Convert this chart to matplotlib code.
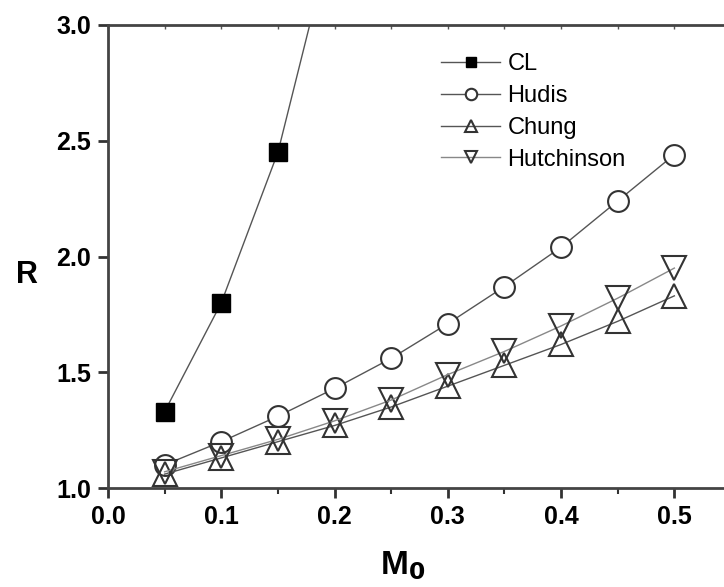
import matplotlib
matplotlib.use('Agg')
from matplotlib import pyplot as plt
from matplotlib.ticker import MultipleLocator

plt.rcParams['font.family'] = ['Liberation Sans', 'DejaVu Sans']

m0 = [0.05, 0.10, 0.15, 0.20, 0.25, 0.30, 0.35, 0.40, 0.45, 0.50]
cl_x = [0.05, 0.10, 0.15, 0.20]
cl = [1.33, 1.80, 2.45, 3.43]
hudis = [1.10, 1.20, 1.31, 1.43, 1.56, 1.71, 1.87, 2.04, 2.24, 2.44]
chung = [1.06, 1.13, 1.20, 1.27, 1.35, 1.44, 1.53, 1.62, 1.72, 1.83]
hutchinson = [1.07, 1.14, 1.21, 1.29, 1.38, 1.49, 1.59, 1.70, 1.82, 1.95]

fig = plt.figure(figsize=(7.24, 5.87), dpi=100)
ax = fig.add_axes([108 / 724, 1 - 488 / 587, 623 / 724, 463 / 587])

line_col = '#555555'
ax.plot(cl_x, cl, color=line_col, lw=1, marker='s', ms=13, mfc='black', mec='black', label='CL')
ax.plot(m0, hudis, color=line_col, lw=1, marker='o', ms=15, mfc='white', mec='#333333', mew=1.5, label='Hudis')
ax.plot(m0, chung, color=line_col, lw=1, marker='^', ms=17, mfc='none', mec='#333333', mew=1.5, label='Chung')
ax.plot(m0, hutchinson, color='#888888', lw=1, marker='v', ms=17, mfc='none', mec='#333333', mew=1.5, label='Hutchinson')

ax.set_xlim(0, 0.55)
ax.set_ylim(1.0, 3.0)
ax.xaxis.set_minor_locator(MultipleLocator(0.05))
ax.set_xticks([0.0, 0.1, 0.2, 0.3, 0.4, 0.5])
ax.set_xticklabels(['0.0', '0.1', '0.2', '0.3', '0.4', '0.5'])
ax.set_yticks([1.0, 1.5, 2.0, 2.5, 3.0])
ax.set_yticklabels(['1.0', '1.5', '2.0', '2.5', '3.0'])

ax.tick_params(axis='both', which='major', direction='out', length=7, width=2,
               color='#333333', labelsize=18, pad=5)
ax.tick_params(axis='x', which='minor', direction='out', length=4, width=1.5, color='#333333')
for lbl in ax.get_xticklabels() + ax.get_yticklabels():
    lbl.set_fontweight('bold')

# small inward ticks along the top edge
top = ax.secondary_xaxis('top')
top.xaxis.set_major_locator(MultipleLocator(0.05))
top.tick_params(direction='in', length=3, width=1, color='#555555', labeltop=False)

for side in ['left', 'bottom', 'top', 'right']:
    ax.spines[side].set_linewidth(2)
    ax.spines[side].set_color('#444444')
top.spines['top'].set_visible(False)

fig.text(27 / 724, 1 - 275 / 587, 'R', fontsize=22, fontweight='bold', ha='center', va='center')
fig.text(403 / 724, 1 - 566 / 587, 'M$_\\mathbf{0}$', fontsize=24, fontweight='bold', ha='center', va='center')

leg = ax.legend(loc='upper left', bbox_to_anchor=(0.52, 0.96), frameon=False, fontsize=17,
                markerscale=0.55, handlelength=2.5, handletextpad=0.3, labelspacing=0.42,
                borderaxespad=0)

fig.savefig('out.png', dpi=100)
